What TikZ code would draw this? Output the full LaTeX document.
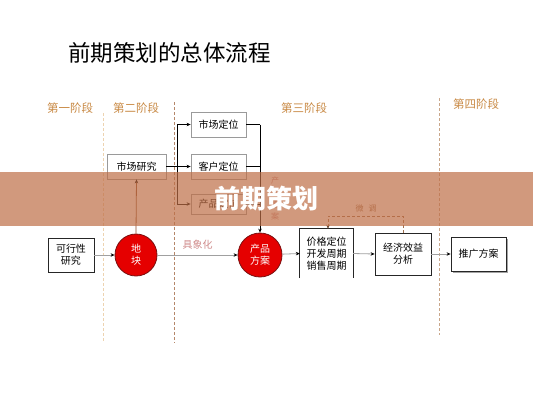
\documentclass[tikz,border=0pt]{standalone}
\usepackage{fontspec}
\setmainfont{Noto Sans CJK SC}
\usetikzlibrary{arrows.meta,shadows}
\definecolor{stagec}{HTML}{C98A45}
\definecolor{boxgray}{HTML}{9A9A9A}
\definecolor{linegray}{HTML}{A0A0A0}
\definecolor{circred}{HTML}{E50000}
\definecolor{circborder}{HTML}{7A1010}
\definecolor{brownline}{HTML}{8B4A2B}
\definecolor{pinktxt}{HTML}{D08C8C}
\definecolor{fbbrown}{HTML}{A0704F}
\definecolor{sepA}{HTML}{EDD3B0}
\definecolor{sepB}{HTML}{B5876A}
\definecolor{sepC}{HTML}{C9A68A}
\definecolor{bandc}{RGB}{190,110,70}
\begin{document}
\begin{tikzpicture}[x=1pt,y=-1pt,
  every node/.style={inner sep=0pt},
  txt/.style={font=\fontsize{10}{12}\selectfont, align=center},
  graybox/.style={txt, draw=boxgray, line width=0.8pt, fill=white},
  blackbox/.style={txt, draw=black!85, line width=0.8pt, fill=white},
  redcirc/.style={circle, draw=circborder, line width=0.8pt, fill=circred, text=white, txt},
  stagelbl/.style={font=\fontsize{11.5}{13}\selectfont, text=stagec},
  sepline/.style={dash pattern=on 3pt off 2pt, line width=0.8pt},
  tip/.style={-{Stealth[length=4pt,width=3.5pt,color=black]}},
  gline/.style={draw=linegray, line width=0.8pt, tip},
  kline/.style={draw=black, line width=0.8pt},
]
\useasboundingbox (0,0) rectangle (533,400);
\fill[white] (0,0) rectangle (533,400);

% title
\node[font=\fontsize{22.5}{26}\selectfont] (title) at (169.5,53) {前期策划的总体流程};

% stage separators
\draw[sepline, draw=sepA] (103,113) -- (103,341);
\draw[sepline, draw=sepB] (174,102) -- (174,343);
\draw[sepline, draw=sepC] (439,98) -- (439,335);

% stage labels
\node[stagelbl] (s1) at (70,108) {第一阶段};
\node[stagelbl] (s2) at (136,108) {第二阶段};
\node[stagelbl] (s3) at (304,108) {第三阶段};
\node[stagelbl] (s4) at (476,104) {第四阶段};

% boxes
\node[graybox, minimum width=55pt, minimum height=25pt] (mpos) at (218.5,124.5) {市场定位};
\node[graybox, minimum width=55pt, minimum height=25pt] (cpos) at (218.5,166.5) {客户定位};
\node[graybox, minimum width=55pt, minimum height=20pt] (ppos) at (218.5,204) {产品定位};
\node[graybox, minimum width=59pt, minimum height=25pt] (mres) at (136.5,166.5) {市场研究};
\node[blackbox, minimum width=46pt, minimum height=34pt] (feas) at (71,255) {可行性\\研究};
\node[redcirc, minimum size=42pt] (land) at (136,255) {地\\块};
\node[redcirc, minimum size=44pt] (prod) at (260,255) {产品\\方案};
\node[txt, minimum width=53pt, minimum height=49pt] (price) at (326.5,253.5) {价格定位\\开发周期\\销售周期};
\draw[black!85, line width=0.8pt] (price.south west) -- (price.north west) -- (price.north east) -- (price.south east);
\node[blackbox, minimum width=56pt, minimum height=42pt] (econ) at (403,254) {经济效益\\分析};
\node[blackbox, minimum width=55pt, minimum height=34pt,
  drop shadow={shadow xshift=1.5pt, shadow yshift=-1.5pt, fill=black!45, opacity=0.8}] (promo) at (478.5,254) {推广方案};

% junction coordinates
\coordinate (jl) at (177,166.5);
\coordinate (jr) at (260,124.5);

% connectors
\draw[gline] (feas) -- (land);
\draw[gline] (land) -- node[above=5pt, font=\fontsize{10}{12}\selectfont, text=pinktxt] (lbl) {具象化} (prod);
\draw[draw=brownline, line width=0.8pt, tip] (land.north) -- (mres.south);
\draw[kline] (mres.east) -- (jl);
\draw[kline] (jl |- mpos.west) -- (jl |- ppos.west);
\draw[kline, tip] (jl |- mpos.west) -- (mpos.west);
\draw[kline, tip] (jl) -- (cpos.west);
\draw[kline, tip] (jl |- ppos.west) -- (ppos.west);
\draw[kline] (mpos.east) -- (jr);
\draw[kline] (cpos.east) -- (jr |- cpos.east);
\draw[kline] (ppos.east) -- (jr |- ppos.east);
\draw[kline, tip] (jr) -- (prod.north);
\draw[gline] (prod) -- (price.west);
\draw[gline] (price.east) -- (econ.west);
\draw[gline] (econ) -- (promo);

% feedback
\coordinate (fb1) at (403,216);
\coordinate (fb2) at (328,216);
\draw[draw=fbbrown, line width=0.8pt, dash pattern=on 3pt off 2pt, -{Stealth[length=4pt,width=3.5pt,color=fbbrown!70!black]}]
  (econ.north) -- (fb1) -- (fb2) -- (fb2 |- price.north);
\node[font=\fontsize{8}{10}\selectfont, text=fbbrown] (fblbl) at (366,208) {微\hspace{5pt}调};

% vertical label
\node[font=\fontsize{8}{12}\selectfont, text=pinktxt, align=center] (vlbl) at (275,198.5) {产\\品\\方\\案};

% overlay band
\fill[bandc, opacity=0.7] (0,172) rectangle (533,226);
\node[font=\fontsize{26}{30}\selectfont\bfseries, text=white] (band) at (266,199) {前期策划};
\end{tikzpicture}
\end{document}
